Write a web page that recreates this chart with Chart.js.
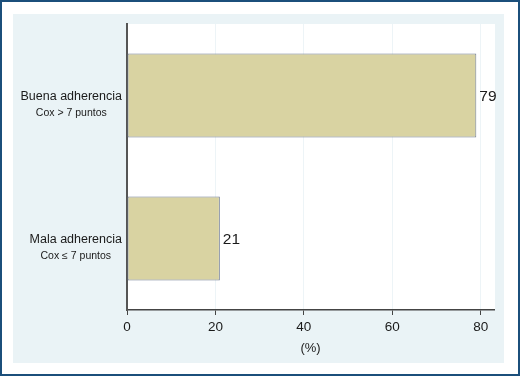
<!DOCTYPE html>
<html>
<head>
<meta charset="utf-8">
<script src="https://cdn.jsdelivr.net/npm/chart.js@4.4.0/dist/chart.umd.min.js"></script>
<style>
  body { margin: 0; background: #fff; }
  #wrap { width: 520px; height: 376px; }
</style>
</head>
<body>
<div id="wrap"><canvas id="myChart" width="520" height="376"></canvas></div>
<script>
const categories = ["Buena adherencia", "Mala adherencia"];
const subLabels = ["Cox > 7 puntos", "Cox \u2264 7 puntos"];
const values = [79, 21];
const xTicks = [0, 20, 40, 60, 80];

const panelPlugin = {
  id: "panel",
  beforeDraw(chart) {
    const ctx = chart.ctx;
    const area = chart.chartArea;
    ctx.save();
    ctx.fillStyle = "#ffffff";
    ctx.fillRect(0, 0, chart.width, chart.height);
    ctx.fillStyle = "#eaf3f6";
    ctx.fillRect(13, 14, 491, 349);
    ctx.fillStyle = "#ffffff";
    ctx.fillRect(area.left, area.top, area.right - area.left + 1, area.bottom - area.top);
    ctx.strokeStyle = "#1b4f7b";
    ctx.lineWidth = 2;
    ctx.strokeRect(1, 1, chart.width - 2, chart.height - 2);
    ctx.restore();
  },
  afterDraw(chart) {
    const ctx = chart.ctx;
    const y = chart.scales.y;
    ctx.save();
    ctx.fillStyle = "#1a1a1a";
    ctx.textBaseline = "middle";
    ctx.textAlign = "center";
    for (let i = 0; i < categories.length; i++) {
      const py = y.getPixelForValue(i);
      ctx.font = "12.5px 'Liberation Sans', Arial, sans-serif";
      const w = ctx.measureText(categories[i]).width;
      const cx = 122 - w / 2;
      ctx.fillText(categories[i], cx, py + 1);
      ctx.font = "10.5px 'Liberation Sans', Arial, sans-serif";
      ctx.fillText(subLabels[i], cx, py + 18);
    }
    // value labels
    const meta = chart.getDatasetMeta(0);
    ctx.font = "15.5px 'Liberation Sans', Arial, sans-serif";
    ctx.textAlign = "left";
    meta.data.forEach((bar, i) => {
      ctx.fillText(String(values[i]), bar.x + 3, bar.y + 1);
    });
    ctx.restore();
  },
};

const config = {
  type: "bar",
  data: {
    labels: categories,
    datasets: [
      {
        data: values,
        backgroundColor: "#d9d3a2",
        borderColor: "#717d92",
        borderWidth: 1,
        borderSkipped: false,
        barPercentage: 0.587,
        categoryPercentage: 1,
      },
    ],
  },
  options: {
    indexAxis: "y",
    responsive: false,
    animation: false,
    layout: {
      padding: { top: 24, right: 26, left: 0, bottom: 13 },
    },
    scales: {
      x: {
        min: 0,
        max: 83,
        afterFit(scale) {
          scale.height = 53;
        },
        ticks: {
          stepSize: 20,
          includeBounds: false,
          color: "#1a1a1a",
          padding: 4,
          font: { family: "'Liberation Sans', Arial, sans-serif", size: 13.5 },
        },
        grid: {
          color: "#edf4f7",
          tickColor: "#444",
          tickLength: 5,
          lineWidth: 1,
        },
        border: { color: "#444", width: 1.5 },
        title: {
          display: true,
          text: "(%)",
          color: "#1a1a1a",
          padding: { top: 4, bottom: 7 },
          font: { family: "'Liberation Sans', Arial, sans-serif", size: 13 },
        },
      },
      y: {
        afterFit(scale) {
          scale.width = 127;
        },
        ticks: { display: false },
        grid: { display: false },
        border: { color: "#555", width: 2 },
      },
    },
    plugins: {
      legend: { display: false },
      tooltip: { enabled: false },
    },
  },
  plugins: [panelPlugin],
};

const myChart = new Chart(document.getElementById("myChart"), config);
</script>
</body>
</html>
